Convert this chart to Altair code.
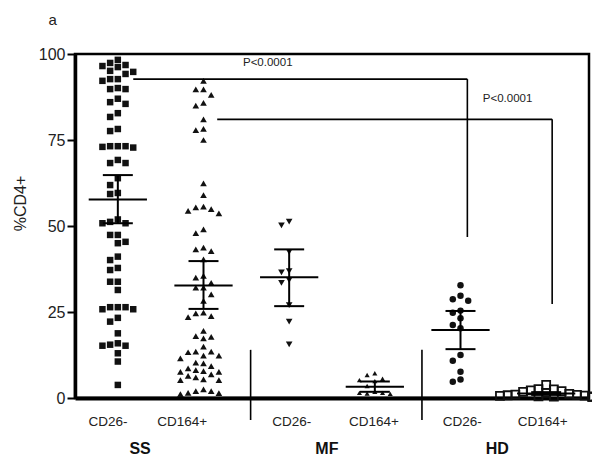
import altair as alt
import pandas as pd

# ---------------- data ----------------
groups = ["SS CD26-", "SS CD164+", "MF CD26-", "MF CD164+", "HD CD26-", "HD CD164+"]
categories = ["CD26-", "CD164+", "CD26-", "CD164+", "CD26-", "CD164+"]
diseases = ["SS", "MF", "HD"]

ss_cd26 = [98.3, 97.4, 96.8, 96.5, 96.2, 95.1, 94.8, 94.2, 92.7, 92.7, 92.2, 90.1, 89.8, 89.8,
           87.0, 86.0, 85.5, 82.8, 81.7, 78.2, 77.6, 73.2, 73.2, 72.8, 73.0, 73.2, 69.2, 68.3,
           68.3, 63.9, 61.9, 59.6, 59.3, 51.9, 51.2, 50.8, 50.8, 47.4, 47.4, 45.4, 45.0, 41.1,
           40.1, 37.8, 37.2, 33.8, 33.8, 31.4, 26.4, 26.4, 26.4, 25.8, 25.8, 23.3, 22.2, 18.8,
           15.9, 15.5, 15.2, 15.2, 13.0, 10.6, 3.8]
ss_cd164 = [92.2, 89.7, 89.7, 88.1, 85.8, 85.0, 81.0, 78.2, 77.9, 75.0, 62.4, 59.0, 55.6, 55.4,
            54.9, 54.4, 53.7, 49.0, 47.9, 43.7, 43.2, 42.7, 40.3, 35.5, 35.0, 33.5, 32.1, 32.1,
            30.1, 28.2, 24.8, 24.6, 23.8, 23.5, 19.5, 18.0, 17.8, 17.3, 14.9, 13.5, 13.5, 13.3,
            12.3, 12.3, 11.5, 10.3, 10.1, 9.3, 8.6, 8.1, 7.8, 7.6, 7.6, 6.9, 6.4, 6.0, 5.4, 5.2,
            5.2, 2.5, 2.0, 2.0, 1.5, 1.4, 1.1]
mf_cd26 = [51.3, 50.2, 42.5, 36.9, 36.5, 34.3, 33.5, 27.0, 22.2, 15.6]
mf_cd164 = [7.2, 6.7, 5.6, 5.2, 4.9, 3.5, 1.8, 1.5, 1.5, 1.3, 1.2]
hd_cd26 = [32.8, 29.7, 28.7, 28.3, 25.4, 24.8, 23.2, 21.2, 20.3, 12.5, 10.8, 7.6, 5.4, 4.7]
hd_cd164 = [3.8, 2.6, 2.5, 2.2, 2.0, 1.8, 1.5, 1.2, 1.0, 0.9, 0.8, 0.7, 0.6, 0.5, 0.5, 0.4, 0.3, 0.3]
series = [ss_cd26, ss_cd164, mf_cd26, mf_cd164, hd_cd26, hd_cd164]

means = [57.7, 32.7, 35.1, 3.3, 19.8, 1.3]
err_hi = [64.8, 39.8, 43.2, 4.8, 25.3, 1.7]
err_lo = [50.8, 25.9, 26.7, 1.8, 14.2, 0.9]

p_labels = ["P<0.0001", "P<0.0001"]
panel_letter = "a"
y_title = "%CD4+"
y_ticks = [0, 25, 50, 75, 100]

# ---------------- layout / style ----------------
W, H = 514, 344
PPU_Y = H / 100.0
PPU_X = W / 6.0
centers = [0.5, 1.5, 2.5, 3.5, 4.5, 5.5]
label_x = [0.385, 1.25, 2.53, 3.49, 4.52, 5.46]
disease_x = [0.76, 2.94, 4.93]
STEP_PX = 7.7
shapes = ["square", "triangle-up", "triangle-down", "triangle-up", "circle", "square"]
filled = [True, True, True, True, True, False]
sizes = [42, 44, 44, 26, 42, 64]
INK = "#111111"
FONT = "Liberation Sans"


def swarm_cols(vals, h_px=7.0):
    order = sorted(range(len(vals)), key=lambda i: -vals[i])
    placed = []
    cols = [0] * len(vals)
    cands = [0, -1, 1, -2, 2, -3, 3, -4, 4, -5, 5, -6, 6]
    for i in order:
        y = vals[i] * PPU_Y
        chosen = cands[-1]
        for c in cands:
            if all(not (pc == c and abs(py - y) < h_px) for pc, py in placed):
                chosen = c
                break
        placed.append((chosen, y))
        cols[i] = chosen
    return cols


xs = alt.Scale(domain=[0, 6], nice=False, zero=False)
ys = alt.Scale(domain=[0, 100], nice=False, zero=False)
x_axis = alt.Axis(title=None, labels=False, ticks=False, grid=False, domainWidth=4,
                  domainColor="black")
y_axis = alt.Axis(title=y_title, values=y_ticks, grid=False, domainWidth=3.5, domainColor="black",
                  tickSize=8, tickWidth=2, tickColor="black", labelPadding=2,
                  labelFont=FONT, labelFontSize=16, labelColor="#222",
                  titleFont=FONT, titleFontSize=16, titleFontWeight="normal", titleColor="#222",
                  titleAngle=-90, titleX=-55, titleY=149, titleBaseline="middle", titleAlign="center")


def X(f="x"):
    return alt.X(f"{f}:Q", scale=xs, axis=x_axis)


def Y(f="y"):
    return alt.Y(f"{f}:Q", scale=ys, axis=y_axis)


layers = []

# points
for gi, vals in enumerate(series):
    cols = swarm_cols(vals)
    df = pd.DataFrame({"x": [centers[gi] + c * STEP_PX / PPU_X for c in cols], "y": vals})
    m = alt.Chart(df).mark_point(shape=shapes[gi], filled=filled[gi], size=sizes[gi],
                                 color=INK, opacity=1,
                                 strokeWidth=1.8 if not filled[gi] else 0.5)
    layers.append(m.encode(x=X(), y=Y()))

# mean and error bars
seg = []
for gi in range(6):
    c = centers[gi]
    seg.append(dict(x=c - 0.34, x2=c + 0.34, y=means[gi], y2=means[gi]))
    seg.append(dict(x=c - 0.175, x2=c + 0.175, y=err_hi[gi], y2=err_hi[gi]))
    seg.append(dict(x=c - 0.175, x2=c + 0.175, y=err_lo[gi], y2=err_lo[gi]))
    seg.append(dict(x=c, x2=c, y=err_lo[gi], y2=err_hi[gi]))
layers.append(alt.Chart(pd.DataFrame(seg)).mark_rule(color="black", strokeWidth=2)
              .encode(x=X(), x2="x2:Q", y=Y(), y2="y2:Q"))

# separators and significance brackets
lines = [
    dict(x=2.05, x2=2.05, y=14.0, y2=-6.4),
    dict(x=4.05, x2=4.05, y=14.0, y2=-6.4),
    dict(x=0.68, x2=4.58, y=92.7, y2=92.7),
    dict(x=4.58, x2=4.58, y=92.7, y2=46.8),
    dict(x=1.66, x2=5.57, y=81.0, y2=81.0),
    dict(x=5.57, x2=5.57, y=81.0, y2=27.3),
]
layers.append(alt.Chart(pd.DataFrame(lines)).mark_rule(color="black", strokeWidth=1.6, clip=False)
              .encode(x=X(), x2="x2:Q", y=Y(), y2="y2:Q"))

# texts
cat_df = pd.DataFrame({"x": label_x, "y": [-6.9] * 6, "t": categories})
layers.append(alt.Chart(cat_df).mark_text(font=FONT, fontSize=13.5, color="#222", clip=False)
              .encode(x=X(), y=Y(), text="t:N"))
dis_df = pd.DataFrame({"x": disease_x, "y": [-14.9] * 3, "t": diseases})
layers.append(alt.Chart(dis_df).mark_text(font=FONT, fontSize=16, fontWeight="bold", color="#111",
                                          clip=False)
              .encode(x=X(), y=Y(), text="t:N"))
p_df = pd.DataFrame({"x": [2.25, 5.05], "y": [97.4, 86.9], "t": p_labels})
layers.append(alt.Chart(p_df).mark_text(font=FONT, fontSize=11.5, color="#222")
              .encode(x=X(), y=Y(), text="t:N"))
a_df = pd.DataFrame({"x": [-0.26], "y": [109.9], "t": [panel_letter]})
layers.append(alt.Chart(a_df).mark_text(font=FONT, fontSize=15, color="#222", clip=False)
              .encode(x=X(), y=Y(), text="t:N"))

chart = (
    alt.layer(*layers)
    .properties(width=W, height=H,
                padding={"left": 67, "top": 46, "right": 3, "bottom": 63},
                autosize=alt.AutoSizeParams(type="none"))
    .configure_view(stroke="black", strokeWidth=2.5)
)

chart.save("out.html", embed_options={"renderer": "svg", "actions": False})
